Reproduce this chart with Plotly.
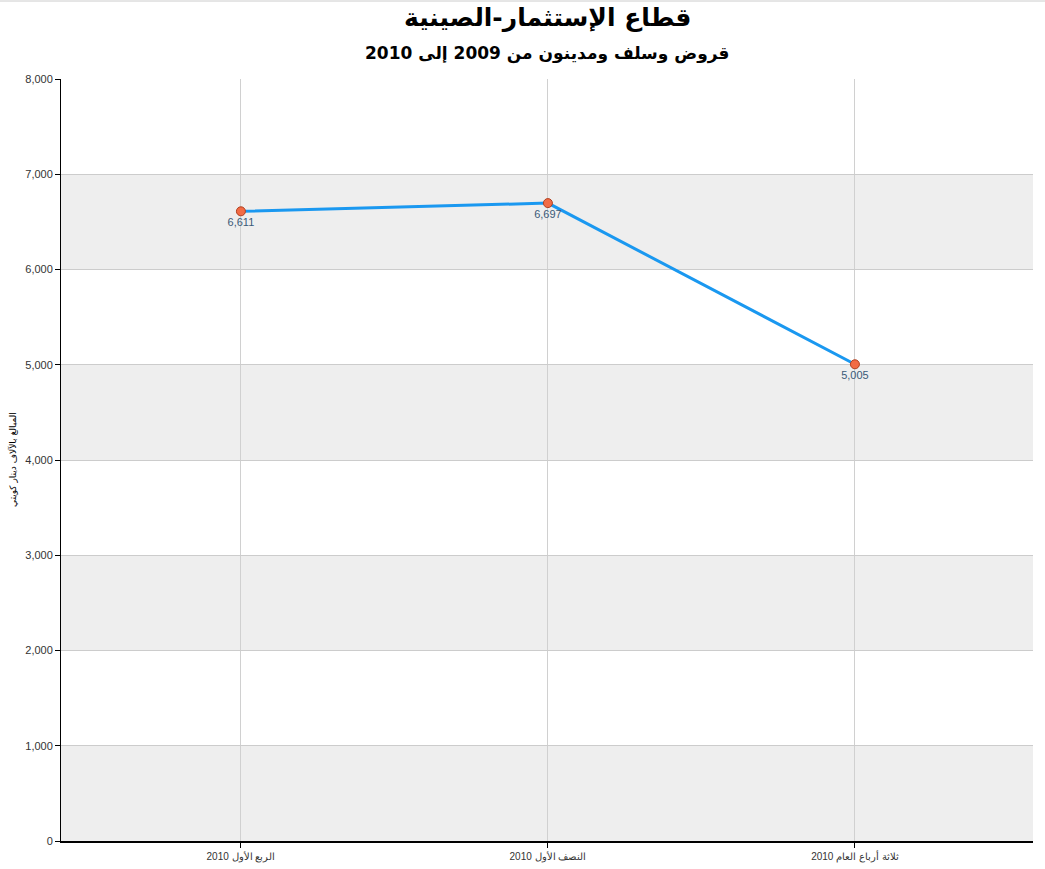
import plotly.graph_objects as go

categories = ["الربع الأول 2010", "النصف الأول 2010", "ثلاثة أرباع العام 2010"]
values = [6611, 6697, 5005]
y_ticks = [0, 1000, 2000, 3000, 4000, 5000, 6000, 7000, 8000]
band_starts = [0, 2000, 4000, 6000]
band_width = 1000

title = "قطاع الإستثمار-الصينية"
subtitle = "قروض وسلف ومدينون من 2009 إلى 2010"
y_title = "المبالغ بالآلاف دينار كويتي"

W, H = 1045, 869
L, R, T, B = 61, 12, 79, 28
plot_w = W - L - R
plot_h = H - T - B

fig = go.Figure()
fig.add_trace(go.Scatter(
    x=list(range(len(categories))), y=values,
    mode="lines+markers+text",
    line=dict(color="#1a98f0", width=3),
    marker=dict(color="#f26b45", size=9, line=dict(color="#b04020", width=1)),
    text=[f"{v:,}" for v in values],
    textposition="bottom center",
    textfont=dict(family="Arial, Liberation Sans", size=11, color="#3a5a78"),
    hoverinfo="skip",
    cliponaxis=False,
))

shapes = []
for b in band_starts:
    shapes.append(dict(type="rect", xref="paper", yref="y", x0=0, x1=1,
                       y0=b, y1=b + band_width, fillcolor="#eeeeee",
                       line=dict(width=0), layer="below"))
shapes.append(dict(type="line", xref="paper", yref="paper",
                   x0=-L / plot_w, x1=1 + R / plot_w,
                   y0=1 + (T - 1) / plot_h, y1=1 + (T - 1) / plot_h,
                   line=dict(color="#cccccc", width=1)))

fig.update_layout(
    width=W, height=H,
    margin=dict(l=L, r=R, t=T, b=B, autoexpand=False),
    paper_bgcolor="white", plot_bgcolor="white",
    showlegend=False,
    shapes=shapes,
    annotations=[
        dict(text=f"<b>{title}</b>", x=0.5, xref="paper",
             y=1 + (T - 18) / plot_h, yref="paper", yanchor="middle",
             showarrow=False, font=dict(family="DejaVu Sans", size=25, color="black")),
        dict(text=f"<b>{subtitle}</b>", x=0.5, xref="paper",
             y=1 + (T - 54) / plot_h, yref="paper", yanchor="middle",
             showarrow=False, font=dict(family="DejaVu Sans", size=17, color="black")),
        dict(text=y_title, textangle=-90, x=-(L - 12) / plot_w, xref="paper",
             y=(841 - 460) / plot_h, yref="paper", xanchor="center", yanchor="middle",
             showarrow=False, font=dict(family="DejaVu Sans", size=9, color="black")),
    ],
    xaxis=dict(
        tickmode="array", tickvals=list(range(len(categories))), ticktext=categories,
        range=[-0.586, 2.58], showgrid=True, gridcolor="#d0d0d0", gridwidth=1,
        showline=True, linecolor="black", linewidth=1.5,
        ticks="outside", ticklen=5, tickcolor="black",
        tickfont=dict(family="Arial, Liberation Sans", size=10, color="#333333"),
        zeroline=False, fixedrange=True, automargin=False,
    ),
    yaxis=dict(
        range=[0, 8000], tickmode="array", tickvals=y_ticks,
        ticktext=[f"{t:,}" for t in y_ticks],
        showgrid=True, gridcolor="#cccccc", gridwidth=1,
        showline=True, linecolor="black", linewidth=1,
        ticks="outside", ticklen=5, tickcolor="black",
        tickfont=dict(family="Arial, Liberation Sans", size=11, color="#333333"),
        zeroline=False, fixedrange=True, automargin=False,
    ),
)

fig.write_html("out.html", config={"displayModeBar": False},
               post_script="document.body.style.margin='0';document.body.style.overflow='hidden';")
